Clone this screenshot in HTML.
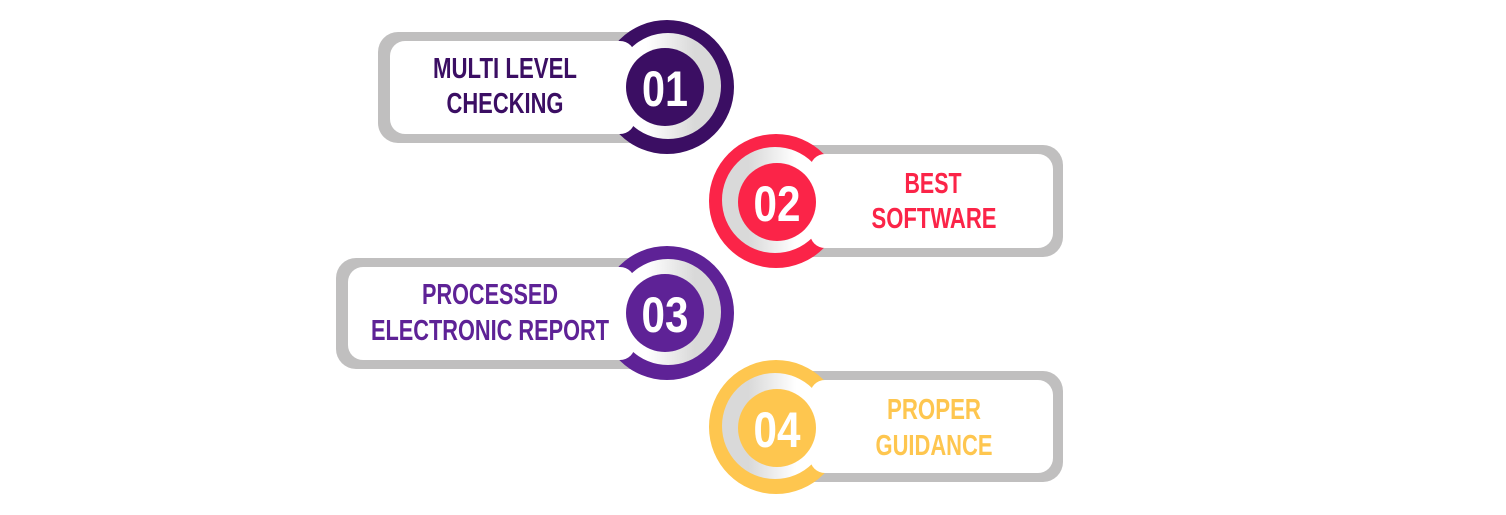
<!DOCTYPE html>
<html><head><meta charset="utf-8"><style>
html,body{margin:0;padding:0;background:#fff;}
svg{display:block}
text{font-family:"Liberation Sans Narrow","Liberation Sans",sans-serif;font-weight:bold;text-anchor:middle;}
</style></head><body>
<svg width="1506" height="515" viewBox="0 0 1506 515">
<defs>
  <linearGradient id="gr" x1="0" y1="0" x2="1" y2="0">
    <stop offset="0.3" stop-color="#ffffff"/><stop offset="0.75" stop-color="#d9d9d9"/>
  </linearGradient>
  <linearGradient id="gl" x1="1" y1="0" x2="0" y2="0">
    <stop offset="0.3" stop-color="#ffffff"/><stop offset="0.75" stop-color="#d9d9d9"/>
  </linearGradient>
</defs>
<g>
  <rect x="378" y="32" width="300" height="111" rx="20" fill="#c0bfbf"/>
  <circle cx="667" cy="87" r="67" fill="#3b0e63"/>
  <circle cx="668" cy="86" r="53" fill="url(#gr)"/>
  <rect x="390" y="41" width="245" height="93" rx="15" fill="#fff"/>
  <circle cx="665" cy="87" r="39" fill="#3b0e63"/>
  <text x="665" y="106" font-size="50" fill="#fff" textLength="46" lengthAdjust="spacingAndGlyphs">01</text>
  <text x="505" y="78" font-size="29" fill="#3b0e63" textLength="144" lengthAdjust="spacingAndGlyphs">MULTI LEVEL</text>
  <text x="505" y="113" font-size="29" fill="#3b0e63" textLength="117" lengthAdjust="spacingAndGlyphs">CHECKING</text>
</g>
<g>
  <rect x="765" y="145" width="298" height="112" rx="20" fill="#c0bfbf"/>
  <circle cx="776" cy="201" r="67" fill="#fb2448"/>
  <circle cx="775" cy="200" r="53" fill="url(#gl)"/>
  <rect x="810" y="154" width="243" height="94" rx="15" fill="#fff"/>
  <circle cx="777" cy="202" r="39" fill="#fb2448"/>
  <text x="777" y="221" font-size="50" fill="#fff" textLength="47" lengthAdjust="spacingAndGlyphs">02</text>
  <text x="933" y="193" font-size="29" fill="#fb2448" textLength="57" lengthAdjust="spacingAndGlyphs">BEST</text>
  <text x="934" y="228" font-size="29" fill="#fb2448" textLength="125" lengthAdjust="spacingAndGlyphs">SOFTWARE</text>
</g>
<g>
  <rect x="336" y="258" width="342" height="111" rx="20" fill="#c0bfbf"/>
  <circle cx="667" cy="313" r="67" fill="#5e2296"/>
  <circle cx="668" cy="312" r="53" fill="url(#gr)"/>
  <rect x="348" y="267" width="287" height="93" rx="15" fill="#fff"/>
  <circle cx="665" cy="313" r="39" fill="#5e2296"/>
  <text x="665" y="332" font-size="50" fill="#fff" textLength="47" lengthAdjust="spacingAndGlyphs">03</text>
  <text x="490" y="304" font-size="29" fill="#5e2296" textLength="136" lengthAdjust="spacingAndGlyphs">PROCESSED</text>
  <text x="490" y="340" font-size="29" fill="#5e2296" textLength="238" lengthAdjust="spacingAndGlyphs">ELECTRONIC REPORT</text>
</g>
<g>
  <rect x="765" y="371" width="298" height="111" rx="20" fill="#c0bfbf"/>
  <circle cx="776" cy="427" r="67" fill="#fec64f"/>
  <circle cx="775" cy="426" r="53" fill="url(#gl)"/>
  <rect x="810" y="380" width="243" height="93" rx="15" fill="#fff"/>
  <circle cx="777" cy="428" r="39" fill="#fec64f"/>
  <text x="777" y="447" font-size="50" fill="#fff" textLength="47" lengthAdjust="spacingAndGlyphs">04</text>
  <text x="934" y="419" font-size="29" fill="#fec64f" textLength="94" lengthAdjust="spacingAndGlyphs">PROPER</text>
  <text x="934" y="455" font-size="29" fill="#fec64f" textLength="117" lengthAdjust="spacingAndGlyphs">GUIDANCE</text>
</g>
</svg>
</body></html>
